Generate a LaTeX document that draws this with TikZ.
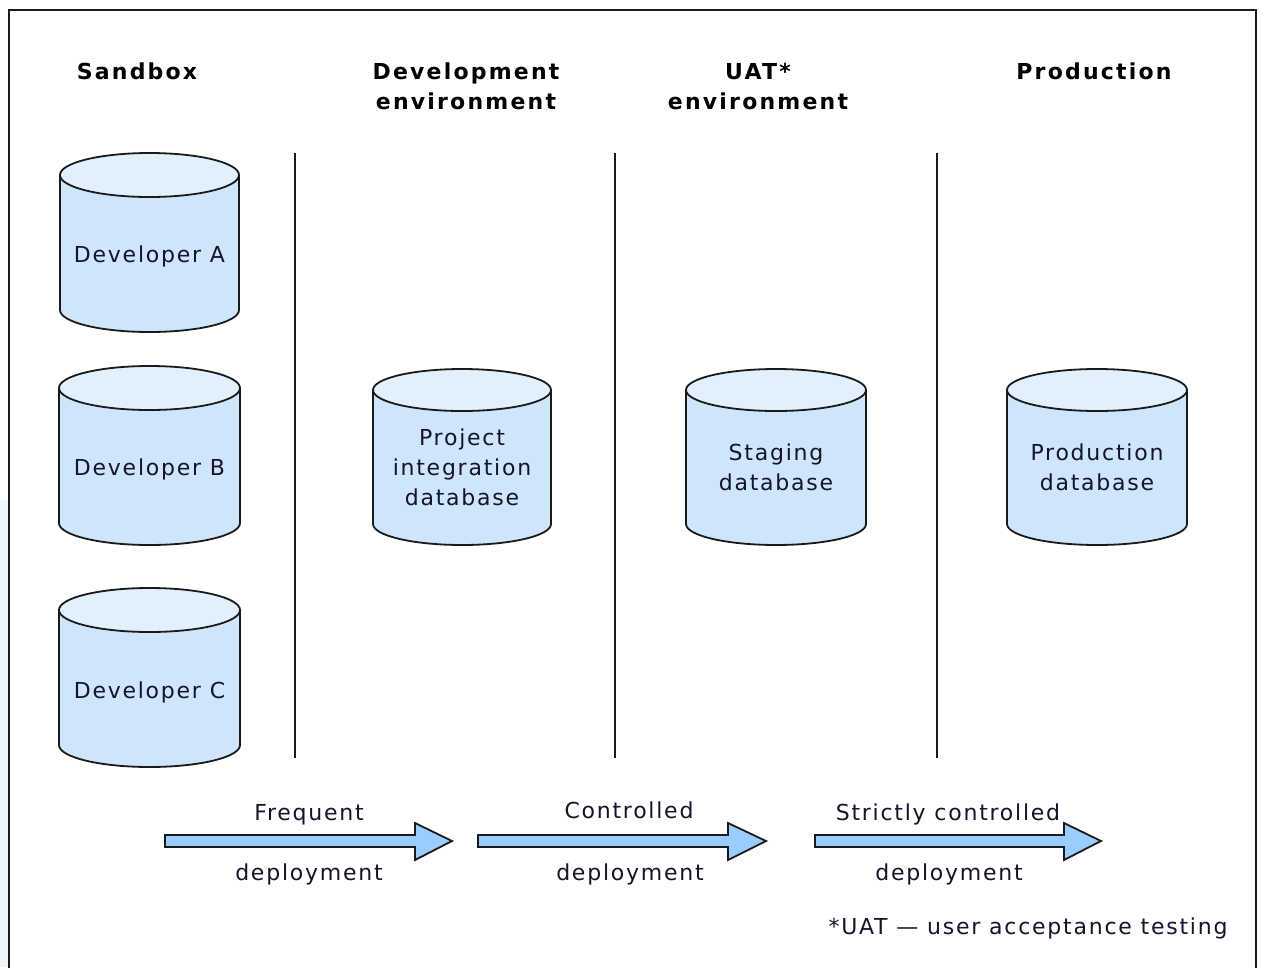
\documentclass[tikz,border=0pt]{standalone}
\usepackage{fontspec}
\setmainfont{DejaVu Sans}[LetterSpace=8]
\newfontfamily\headfont{DejaVu Sans}[LetterSpace=10]
\definecolor{txtc}{HTML}{14142A}
\definecolor{bodyc}{HTML}{CFE5FB}
\definecolor{topc}{HTML}{E2EFFC}
\definecolor{arrc}{HTML}{99CCFF}
\definecolor{edgec}{HTML}{1A1A1A}
\newcommand\dbcyl[8]{%
  \pgfmathsetmacro\cxv{(#2+#3)/2}%
  \pgfmathsetmacro\rxv{(#3-#2)/2}%
  \pgfmathsetmacro\kxv{0.5523*\rxv}%
  \pgfmathsetmacro\kyv{0.5523*#6}%
  \pgfmathsetmacro\ytv{#4+#6}%
  \pgfmathsetmacro\ybv{#5-#6}%
  \filldraw[cylbody] (#2,\ytv) -- (#2,\ybv) .. controls (#2,\ybv+\kyv) and (\cxv-\kxv,#5) .. (\cxv,#5) .. controls (\cxv+\kxv,#5) and (#3,\ybv+\kyv) .. (#3,\ybv) -- (#3,\ytv) -- cycle;
  \filldraw[cyltop] (\cxv,\ytv) ellipse [x radius=\rxv pt, y radius=#6pt];
  \node[dbtext] (#1) at (\cxv,#7) {#8};
}
\newcommand\blockarrow[4]{% #1 name #2 x0 #3 xbase #4 xtip
  \coordinate (#1-s) at (#2,841);
  \coordinate (#1-t) at (#4,841);
  \filldraw[blockarr] (#2,835) -- (#3,835) -- (#3,823) -- (#4,841) -- (#3,860) -- (#3,847) -- (#2,847) -- cycle;
}
\tikzset{
  cylbody/.style={fill=bodyc, draw=edgec, line width=1.8pt, line join=round},
  cyltop/.style={fill=topc, draw=edgec, line width=1.8pt},
  dbtext/.style={text=txtc, align=center, inner sep=0pt, font=\fontsize{22}{30}\selectfont},
  heading/.style={text=black, align=center, inner sep=0pt, font=\headfont\bfseries\fontsize{22}{30}\selectfont},
  lbl/.style={text=txtc, inner sep=0pt, anchor=base, font=\fontsize{22}{30}\selectfont},
  blockarr/.style={fill=arrc, draw=edgec, line width=1.8pt, line join=miter},
  divider/.style={draw=edgec, line width=2.8pt},
}
\begin{document}
\begin{tikzpicture}[x=1pt, y=-1pt]
\useasboundingbox (0,0) rectangle (1261,967);
\fill[white] (0,0) rectangle (1261,967);
\fill[topc!60] (0,500) rectangle (8,967);
\draw[edgec, line width=2pt] (9,968) -- (9,10) -- (1256,10) -- (1256,968);

% headings
\node[heading, anchor=base] (hsand) at (137,79) {Sandbox};
\node[heading] (hdev) at (466,86) {Development\\environment};
\node[heading] (huat) at (758,86) {UAT*\\environment};
\node[heading, anchor=base] (hprod) at (1094,79) {Production};

% dividers
\coordinate (d1a) at (295,153); \coordinate (d1b) at (295,758);
\coordinate (d2a) at (615,153); \coordinate (d2b) at (615,758);
\coordinate (d3a) at (937,153); \coordinate (d3b) at (937,758);
\draw[divider] (d1a) -- (d1b);
\draw[divider] (d2a) -- (d2b);
\draw[divider] (d3a) -- (d3b);

% databases
\dbcyl{devA}{60}{239}{153}{332}{22}{256}{Developer A}
\dbcyl{devB}{59}{240}{366}{545}{22}{469}{Developer B}
\dbcyl{devC}{59}{240}{588}{767}{22}{692}{Developer C}
\dbcyl{proj}{373}{551}{369}{545}{21}{467}{Project\\integration\\database}
\dbcyl{stag}{686}{866}{369}{545}{21}{467}{Staging\\database}
\dbcyl{prod}{1007}{1187}{369}{545}{21}{467}{Production\\database}

% deployment arrows
\blockarrow{a1}{165}{415}{452}
\blockarrow{a2}{478}{728}{766}
\blockarrow{a3}{815}{1064}{1101}
\node[lbl] (f1) at (309,820) {Frequent};
\node[lbl] (g1) at (309,880) {deployment};
\node[lbl] (f2) at (629,818) {Controlled};
\node[lbl] (g2) at (630,880) {deployment};
\node[lbl] (f3) at (948,820) {Strictly controlled};
\node[lbl] (g3) at (949,880) {deployment};
\node[lbl] (note) at (1028,934) {*UAT — user acceptance testing};
\end{tikzpicture}
\end{document}
